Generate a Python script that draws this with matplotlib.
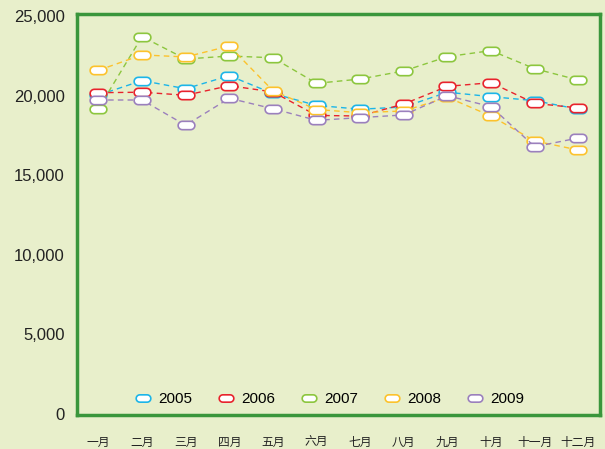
import numpy as np
import matplotlib.pyplot as plt
from matplotlib.path import Path
from matplotlib.ticker import FuncFormatter

months = ["一月", "二月", "三月", "四月", "五月", "六月",
          "七月", "八月", "九月", "十月", "十一月", "十二月"]
years = ["2005", "2006", "2007", "2008", "2009"]

s2005 = [20050, 20960, 20450, 21270, 20150, 19400, 19160, 19300, 20230, 19950, 19700, 19160]
s2006 = [20200, 20230, 20040, 20640, 20250, 18770, 18730, 19490, 20600, 20830, 19530, 19240]
s2007 = [19190, 23730, 22320, 22510, 22400, 20790, 21060, 21570, 22470, 22850, 21710, 21000]
s2008 = [21610, 22580, 22450, 23140, 20330, 19140, 18940, 19050, 19910, 18730, 17160, 16590]
s2009 = [19740, 19740, 18150, 19850, 19190, 18460, 18630, 18800, 20010, 19320, 16800, 17350]
series = [s2005, s2006, s2007, s2008, s2009]
colors = ["#1cb5e8", "#e8232d", "#8cc63e", "#fcc22c", "#9b80bd"]

# pill-shaped marker, 2:1
t1 = np.linspace(np.pi / 2, 3 * np.pi / 2, 12)
t2 = np.linspace(-np.pi / 2, np.pi / 2, 12)
xs = np.concatenate([-0.5 + 0.5 * np.cos(t1), 0.5 + 0.5 * np.cos(t2)])
ys = np.concatenate([0.5 * np.sin(t1), 0.5 * np.sin(t2)])
verts = np.column_stack([np.append(xs, xs[0]), np.append(ys, ys[0])])
codes = [Path.MOVETO] + [Path.LINETO] * (len(verts) - 2) + [Path.CLOSEPOLY]
pill = Path(verts, codes)

bg = "#e8efcb"
fig = plt.figure(figsize=(6.05, 4.49), dpi=100, facecolor=bg)
ax = fig.add_axes([0.128, 0.0757, 0.864, 0.8921], facecolor=bg)

x = np.arange(len(months))
for name, vals, c in zip(years, series, colors):
    ax.plot(x, vals, color=c, lw=1, dashes=(4, 3), marker=pill, markersize=12,
            markerfacecolor="white", markeredgecolor=c, markeredgewidth=1.2,
            label=name)

ax.set_xlim(-0.48, 11.5)
ax.set_ylim(-94, 25126)
ax.set_yticks(range(0, 25001, 5000))
ax.yaxis.set_major_formatter(FuncFormatter(lambda v, p: f"{int(v):,}"))
ax.set_xticks(x)
ax.set_xticklabels(months, family=["Noto Sans CJK SC", "DejaVu Sans"], fontsize=8.5)
ax.tick_params(axis="x", length=0, pad=15, colors="#222222")
ax.tick_params(axis="y", length=0, pad=9, labelsize=12, colors="#222222")
for lab in ax.get_yticklabels():
    lab.set_family("Liberation Sans")

for sp in ax.spines.values():
    sp.set_color("#3a963c")
    sp.set_linewidth(2.5)

leg = ax.legend(loc="lower center", ncol=5, frameon=False, bbox_to_anchor=(0.481, -0.012),
                prop={"family": "Liberation Sans", "size": 11}, handlelength=1.2,
                columnspacing=1.6, handletextpad=0.4)
for h in leg.legend_handles:
    h.set_linestyle("none")
    h.set_markersize(10.5)

fig.savefig("out.png", dpi=100, facecolor=bg)
